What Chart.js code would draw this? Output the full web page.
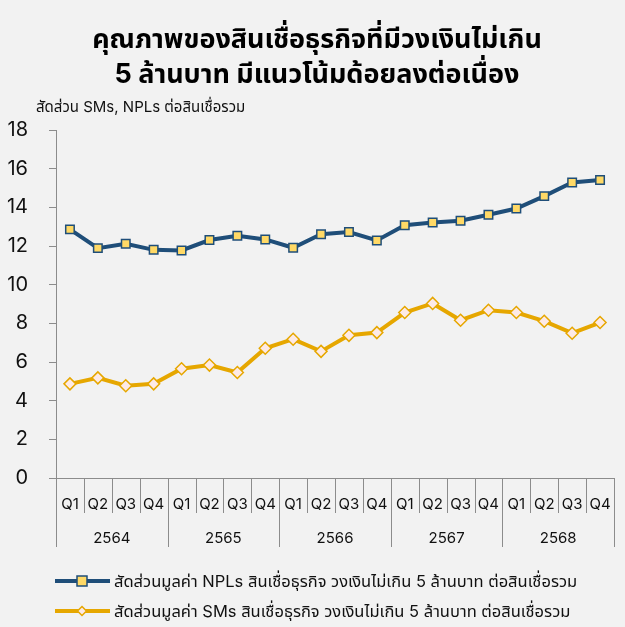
<!DOCTYPE html>
<html>
<head>
<meta charset="utf-8">
<script src="https://cdn.jsdelivr.net/npm/chart.js@4.4.1/dist/chart.umd.min.js"></script>
<style>
  html, body { margin: 0; padding: 0; background: #f2f2f2; }
  #wrap { width: 625px; height: 627px; }
</style>
</head>
<body>
<div id="wrap"><canvas id="chart" width="625" height="627"></canvas></div>
<script>
const quarters = ['Q1', 'Q2', 'Q3', 'Q4', 'Q1', 'Q2', 'Q3', 'Q4', 'Q1', 'Q2', 'Q3', 'Q4',
                  'Q1', 'Q2', 'Q3', 'Q4', 'Q1', 'Q2', 'Q3', 'Q4'];
const years = ['2564', '2565', '2566', '2567', '2568'];

// สัดส่วน NPLs และ SMs (%)
const nplRatio = [12.86, 11.89, 12.12, 11.80, 11.77, 12.31, 12.53, 12.34, 11.91, 12.61,
                  12.72, 12.29, 13.07, 13.21, 13.31, 13.62, 13.94, 14.58, 15.29, 15.41];
const smRatio = [4.87, 5.18, 4.77, 4.87, 5.65, 5.84, 5.46, 6.71, 7.18, 6.55,
                 7.38, 7.52, 8.56, 9.03, 8.16, 8.68, 8.56, 8.11, 7.49, 8.04];

const seriesNames = [
  'สัดส่วนมูลค่า NPLs สินเชื่อธุรกิจ วงเงินไม่เกิน 5 ล้านบาท ต่อสินเชื่อรวม',
  'สัดส่วนมูลค่า SMs สินเชื่อธุรกิจ วงเงินไม่เกิน 5 ล้านบาท ต่อสินเชื่อรวม'
];
const titleLines = ['คุณภาพของสินเชื่อธุรกิจที่มีวงเงินไม่เกิน', '5 ล้านบาท มีแนวโน้มด้อยลงต่อเนื่อง'];
const subTitle = 'สัดส่วน SMs, NPLs ต่อสินเชื่อรวม';

const FONT = "Inter, 'Noto Sans Thai', 'Noto Sans', sans-serif";
const BLUE = '#1f4e79';
const GOLD = '#e6a700';
const AXIS = '#8c8c8c';
const MARK = [
  { fill: '#ffd966', shape: 'rect' },
  { fill: '#fdeae6', shape: 'rectRot' }
];

function drawMarker(g, x, y, color, fill, shape, r) {
  g.save();
  g.lineWidth = 1.5;
  g.strokeStyle = color;
  g.fillStyle = fill;
  g.beginPath();
  if (shape === 'rect') {
    g.rect(x - r, y - r, 2 * r, 2 * r);
  } else {
    g.moveTo(x, y - r); g.lineTo(x + r, y); g.lineTo(x, y + r); g.lineTo(x - r, y); g.closePath();
  }
  g.fill(); g.stroke();
  g.restore();
}

// title, subtitle, year row, category separators and legend
const extras = {
  id: 'extras',
  afterDraw(chart) {
    const ctx = chart.ctx;
    const xs = chart.scales.x;
    const half = (xs.getPixelForValue(1) - xs.getPixelForValue(0)) / 2;
    const top = xs.top;
    ctx.save();
    ctx.strokeStyle = AXIS;
    ctx.lineWidth = 1;
    for (let i = 0; i <= quarters.length; i++) {
      const x = Math.round(xs.getPixelForValue(i) - half) + 0.5;
      const len = (i % 4 === 0) ? 69 : 35;
      ctx.beginPath(); ctx.moveTo(x, top); ctx.lineTo(x, top + len); ctx.stroke();
    }
    ctx.fillStyle = '#111';
    ctx.font = '15px ' + FONT;
    ctx.textAlign = 'center';
    ctx.textBaseline = 'middle';
    years.forEach((y, k) => {
      const cx = (xs.getPixelForValue(k * 4) + xs.getPixelForValue(k * 4 + 3)) / 2;
      ctx.fillText(y, cx, top + 60);
    });

    ctx.fillStyle = '#000';
    ctx.font = 'bold 27px ' + FONT;
    titleLines.forEach((t, i) => ctx.fillText(t, 317, 40 + i * 35));

    ctx.fillStyle = '#111';
    ctx.textAlign = 'left';
    ctx.font = '15px ' + FONT;
    ctx.fillText(subTitle, 36, 107);

    // legend: line sample with marker, then label
    ctx.font = '16.5px ' + FONT;
    chart.data.datasets.forEach((ds, i) => {
      const y = 581 + i * 30;
      ctx.strokeStyle = ds.borderColor;
      ctx.lineWidth = 4;
      ctx.beginPath(); ctx.moveTo(55, y); ctx.lineTo(110, y); ctx.stroke();
      drawMarker(ctx, 82, y, ds.borderColor, MARK[i].fill, MARK[i].shape, i === 0 ? 5 : 4.5);
      ctx.fillStyle = '#111';
      ctx.fillText(ds.label, 114, y + 1);
    });
    ctx.restore();
  }
};

new Chart(document.getElementById('chart').getContext('2d'), {
  type: 'line',
  data: {
    labels: quarters,
    datasets: [{
      label: seriesNames[0],
      data: nplRatio,
      borderColor: BLUE,
      borderWidth: 4,
      pointStyle: MARK[0].shape,
      pointRadius: 6,
      pointBackgroundColor: MARK[0].fill,
      pointBorderColor: BLUE,
      pointBorderWidth: 1.5,
      tension: 0
    }, {
      label: seriesNames[1],
      data: smRatio,
      borderColor: GOLD,
      borderWidth: 4,
      pointStyle: MARK[1].shape,
      pointRadius: 6,
      pointBackgroundColor: MARK[1].fill,
      pointBorderColor: GOLD,
      pointBorderWidth: 1.5,
      tension: 0
    }]
  },
  options: {
    responsive: false,
    animation: false,
    layout: { padding: { left: 3, right: 11, top: 130, bottom: 69 } },
    scales: {
      x: {
        offset: true,
        grid: { display: true, drawOnChartArea: false, drawTicks: true, tickLength: 17, color: 'rgba(0,0,0,0)' },
        border: { color: AXIS },
        ticks: { color: '#111', font: { family: FONT, size: 15 }, padding: 0, maxRotation: 0, autoSkip: false },
        afterFit(scale) { scale.height = 80; }
      },
      y: {
        min: 0,
        max: 18,
        grid: { drawOnChartArea: false, tickLength: 7, color: AXIS },
        border: { color: AXIS },
        ticks: { stepSize: 2, color: '#111', font: { family: FONT, size: 20 }, padding: 21 },
        afterFit(scale) { scale.width = 53; }
      }
    },
    plugins: {
      title: { display: false },
      legend: { display: false },
      tooltip: { enabled: false }
    }
  },
  plugins: [extras]
});
</script>
</body>
</html>
